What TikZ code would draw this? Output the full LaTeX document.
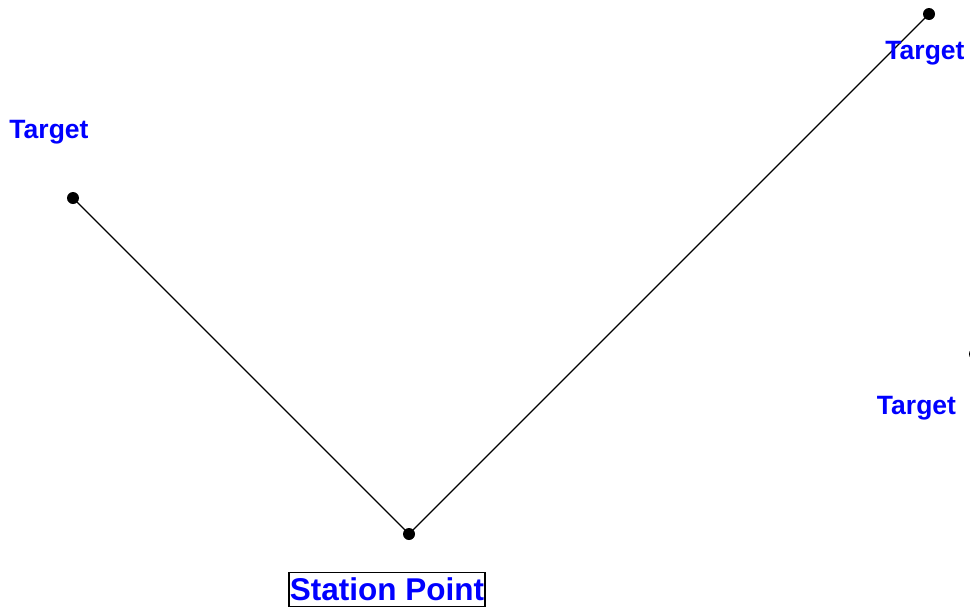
\documentclass[tikz,border=0pt]{standalone}
\usepackage{fontspec}
\setmainfont{Liberation Sans}
\begin{document}
\begin{tikzpicture}[x=1pt,y=-1pt,
  label/.style={text=blue,font=\fontsize{26.5}{26.5}\selectfont\bfseries,inner sep=0pt},
  dot/.style={radius=6}]
	\useasboundingbox (0,0) rectangle (970,608);
	\coordinate (tgtA) at (73,198);
	\coordinate (tgtB) at (929,14);
	\coordinate (tgtC) at (975,354);
	\coordinate (stn) at (409,534);

	\fill (tgtA) circle [dot];
	\fill (tgtB) circle [dot];
	\fill (tgtC) circle [dot];
	\fill (stn) circle [dot];

	\draw[line width=1.4] (tgtA) -- (stn) -- (tgtB);

	\node[label] (labA) at (49,132.5) {Target};
	\node[label] (labB) at (925,53.5) {Target};
	\node[label] (labC) at (916.5,408.5) {Target};
	\node[draw,line width=1.8,text=blue,inner xsep=1.2pt,inner ysep=5.5pt,
	  font=\fontsize{31.5}{31.5}\selectfont\bfseries] (stnlab) at (387,589.5) {Station Point};
\end{tikzpicture}
\end{document}
